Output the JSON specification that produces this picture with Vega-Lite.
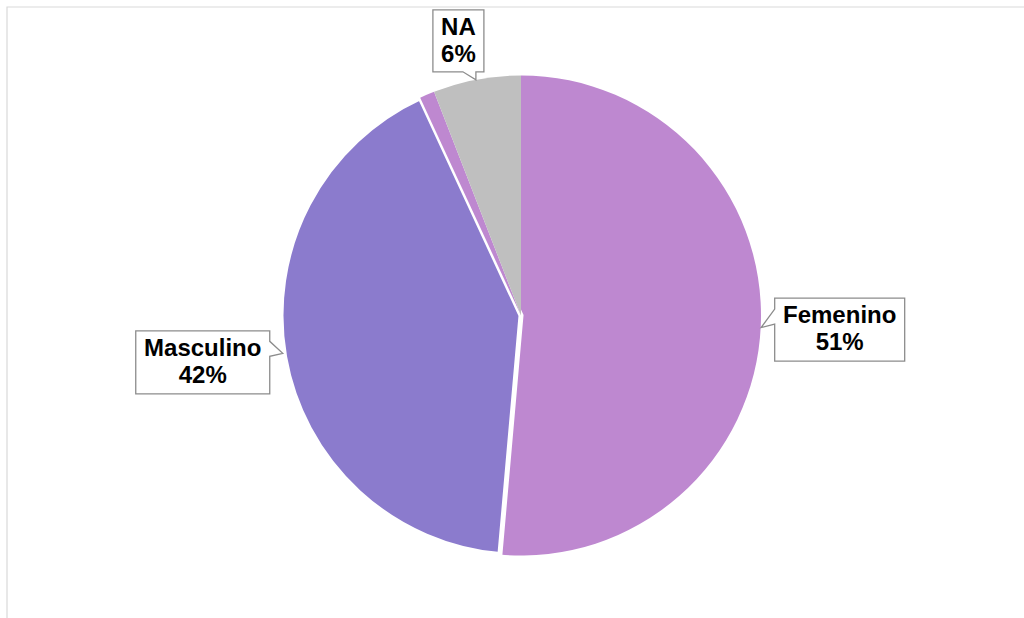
{
  "$schema": "https://vega.github.io/schema/vega-lite/v6.json",
  "width": 1017,
  "height": 611,
  "autosize": "none",
  "padding": {"left": 7, "top": 7, "right": 0, "bottom": 0},
  "background": "white",
  "config": {"view": {"stroke": null}},
  "layer": [
    {
      "data": {"values": [{"marco": 1}]},
      "mark": {
        "type": "rect",
        "filled": false,
        "stroke": "#d9d9d9",
        "strokeWidth": 1.2,
        "x": 0,
        "y": 0,
        "x2": {"expr": "width + 20"},
        "y2": {"expr": "height + 20"}
      },
      "encoding": {}
    },
    {
      "data": {
        "values": [
          {"sexo": "Femenino", "valor": 51.4, "orden": 1},
          {"sexo": "Masculino", "valor": 41.7, "orden": 2},
          {"sexo": "Otro", "valor": 1.0, "orden": 3},
          {"sexo": "NA", "valor": 5.9, "orden": 4}
        ]
      },
      "transform": [
        {"joinaggregate": [{"op": "sum", "field": "valor", "as": "total"}]},
        {"window": [{"op": "sum", "field": "valor", "as": "acum"}], "sort": [{"field": "orden"}], "frame": [null, 0]},
        {"calculate": "(datum.acum - datum.valor / 2) / datum.total * 2 * PI", "as": "medio"},
        {"calculate": "datum.sexo + '\\n' + format(datum.valor / 100, '.0%')", "as": "etiqueta"}
      ],
      "layer": [
        {
          "mark": {
            "type": "arc",
            "outerRadius": 240,
            "x": {"expr": "width/2 + 5.5"},
            "y": {"expr": "height/2 + 3"},
            "stroke": "white"
          },
          "encoding": {
            "theta": {"field": "valor", "type": "quantitative", "stack": true},
            "order": {"field": "orden", "type": "quantitative"},
            "color": {
              "field": "sexo",
              "type": "nominal",
              "scale": {
                "domain": ["Femenino", "Masculino", "Otro", "NA"],
                "range": ["#BE88D0", "#8B7BCD", "#BE88D0", "#BFBFBF"]
              },
              "legend": null
            },
            "strokeWidth": {
              "condition": {"test": "datum.sexo == 'Masculino'", "value": 5},
              "value": 0
            }
          }
        },
        {
          "transform": [{"filter": "datum.sexo != 'Otro'"}],
          "mark": {
            "type": "point",
            "filled": true,
            "fill": "white",
            "fillOpacity": 1,
            "opacity": 1,
            "stroke": "#8C8C8C",
            "strokeWidth": 1.3,
            "size": 4,
            "shape": {"expr": "datum.sexo == 'Femenino' ? 'M-65,-31.5H65V31.5H-65V-5.5L-78.5,-2L-65,-20.5Z' : datum.sexo == 'Masculino' ? 'M-67,-31.5H67V-21L80,-9L67,-6V31.5H-67Z' : 'M-25.5,-31.5H25.5V30.5H17.5V38.5L4.5,30.5H-25.5Z'"},
            "x": {"expr": "width/2 + 5.5 + (datum.sexo == 'NA' ? 280 : 319) * sin(datum.medio) + (datum.sexo == 'NA' ? -11 : datum.sexo == 'Masculino' ? -4 : 0)"},
            "y": {"expr": "height/2 + 3 - (datum.sexo == 'NA' ? 280 : 319) * cos(datum.medio) + (datum.sexo == 'NA' ? 1 : datum.sexo == 'Masculino' ? -8 : 0)"}
          },
          "encoding": {}
        },
        {
          "transform": [{"filter": "datum.sexo != 'Otro'"}],
          "mark": {
            "type": "text",
            "x": {"expr": "width/2 + 5.5 + (datum.sexo == 'NA' ? 280 : 319) * sin(datum.medio) + (datum.sexo == 'NA' ? -11 : datum.sexo == 'Masculino' ? -4 : 0)"},
            "y": {"expr": "height/2 + 3 - (datum.sexo == 'NA' ? 280 : 319) * cos(datum.medio) + (datum.sexo == 'NA' ? 1 : datum.sexo == 'Masculino' ? -8 : 0)"},
            "dy": -13.5,
            "font": "Liberation Sans",
            "fontWeight": "bold",
            "fontSize": 24,
            "lineHeight": 27,
            "lineBreak": "\n",
            "align": "center",
            "baseline": "middle",
            "color": "black"
          },
          "encoding": {
            "text": {"field": "etiqueta", "type": "nominal"}
          }
        }
      ]
    }
  ]
}
